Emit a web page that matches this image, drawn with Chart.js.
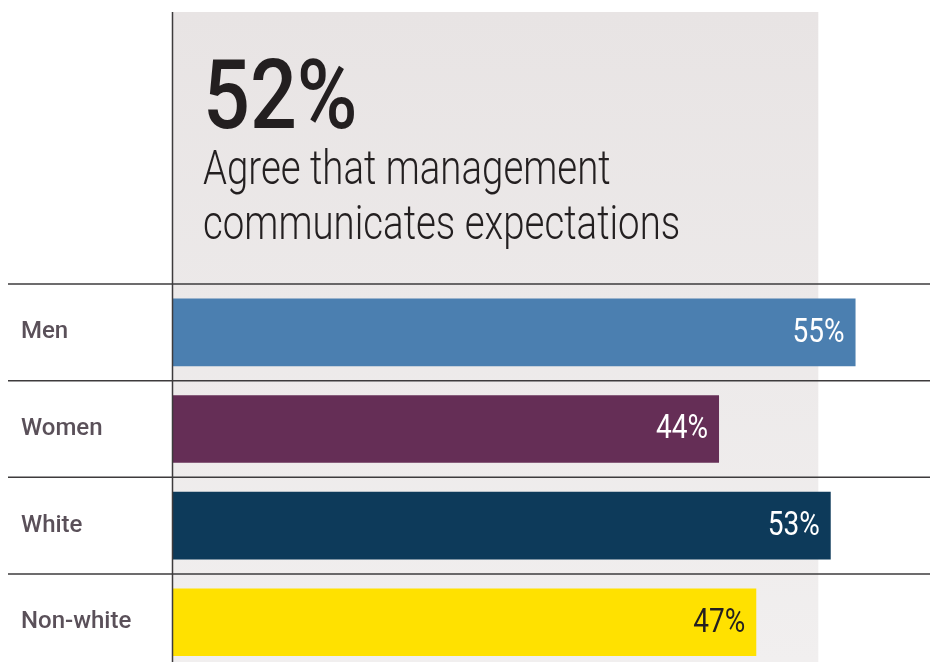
<!DOCTYPE html>
<html lang="en">
<head>
    <meta charset="UTF-8">
    <title>Management communicates expectations</title>
    <script src="https://cdn.jsdelivr.net/npm/chart.js"></script>
    <style>
        html, body { margin: 0; padding: 0; background: #fff; overflow: hidden; }
        #wrap { width: 930px; height: 688px; }
    </style>
</head>
<body>
    <div id="wrap">
        <canvas id="agreeChart" width="930" height="688"></canvas>
    </div>

    <script>
        // Share who agree, overall and by group
        const overallShare = 52;
        const headline = ["Agree that management", "communicates expectations"];
        const groups = ["Men", "Women", "White", "Non-white"];
        const agreeShare = [55, 44, 53, 47];

        const barColors = ["#4b7fb0", "#652e56", "#0d3a5a", "#ffe100"];
        const valueColors = ["#ffffff", "#ffffff", "#ffffff", "#231f20"];

        const FONT = 'Roboto, "DejaVu Sans", sans-serif';

        // squeeze text horizontally to get a condensed look
        function narrowText(ctx, text, x, y, sx) {
            ctx.save();
            ctx.translate(x, y);
            ctx.scale(sx, 1);
            ctx.fillText(text, 0, 0);
            ctx.restore();
        }

        const overallPanel = {
            id: "overallPanel",
            beforeDatasetsDraw(chart) {
                const { ctx, chartArea, scales } = chart;
                const x0 = scales.x.getPixelForValue(0);
                const x1 = scales.x.getPixelForValue(overallShare);
                const top = 12;
                const bottom = chart.height;
                const grad = ctx.createLinearGradient(0, top, 0, 662);
                grad.addColorStop(0, "#e8e4e4");
                grad.addColorStop(1, "#f1efef");
                ctx.save();
                ctx.fillStyle = grad;
                ctx.fillRect(x0, top, x1 - x0, bottom - top);

                ctx.fillStyle = "#231f20";
                ctx.textAlign = "left";
                ctx.textBaseline = "alphabetic";
                ctx.font = "500 96px " + FONT;
                narrowText(ctx, overallShare + "%", chartArea.left + 30, 128, 0.86);
                ctx.font = "300 48px " + FONT;
                headline.forEach((line, i) => {
                    narrowText(ctx, line, chartArea.left + 30, 184 + i * 55, 0.8);
                });
                ctx.restore();
            },
            afterDatasetsDraw(chart) {
                const { ctx, chartArea, scales } = chart;
                const band = (chartArea.bottom - chartArea.top) / groups.length;
                ctx.save();
                ctx.strokeStyle = "#3d3b3c";
                ctx.lineWidth = 1.5;
                // row separators
                groups.forEach((g, i) => {
                    const y = scales.y.getPixelForValue(i) - band / 2;
                    ctx.beginPath();
                    ctx.moveTo(8, y);
                    ctx.lineTo(chart.width, y);
                    ctx.stroke();
                });
                // axis line
                const x0 = scales.x.getPixelForValue(0) - 0.5;
                ctx.beginPath();
                ctx.moveTo(x0, 12);
                ctx.lineTo(x0, chart.height);
                ctx.stroke();

                // value labels at the end of each bar
                const meta = chart.getDatasetMeta(0);
                ctx.font = "400 33px " + FONT;
                ctx.textAlign = "right";
                ctx.textBaseline = "middle";
                meta.data.forEach((bar, i) => {
                    ctx.fillStyle = valueColors[i];
                    narrowText(ctx, agreeShare[i] + "%", bar.x - 11, bar.y + 1, 0.85);
                });
                ctx.restore();
            }
        };

        const ctx = document.getElementById("agreeChart").getContext("2d");
        new Chart(ctx, {
            type: "bar",
            data: {
                labels: groups,
                datasets: [{
                    data: agreeShare,
                    backgroundColor: barColors,
                    borderWidth: 0,
                    categoryPercentage: 1,
                    barPercentage: 0.7
                }]
            },
            options: {
                indexAxis: "y",
                responsive: false,
                animation: false,
                layout: { padding: { top: 284, left: 21, right: 0, bottom: 0 } },
                plugins: {
                    legend: { display: false },
                    tooltip: { enabled: false }
                },
                scales: {
                    x: {
                        display: false,
                        min: 0,
                        max: 61
                    },
                    y: {
                        grid: { display: false },
                        border: { display: false },
                        afterFit(scale) { scale.width = 152; },
                        ticks: {
                            crossAlign: "far",
                            color: "#5a5059",
                            font: { family: FONT, size: 24, weight: 500 }
                        }
                    }
                }
            },
            plugins: [overallPanel]
        });
    </script>
</body>
</html>
